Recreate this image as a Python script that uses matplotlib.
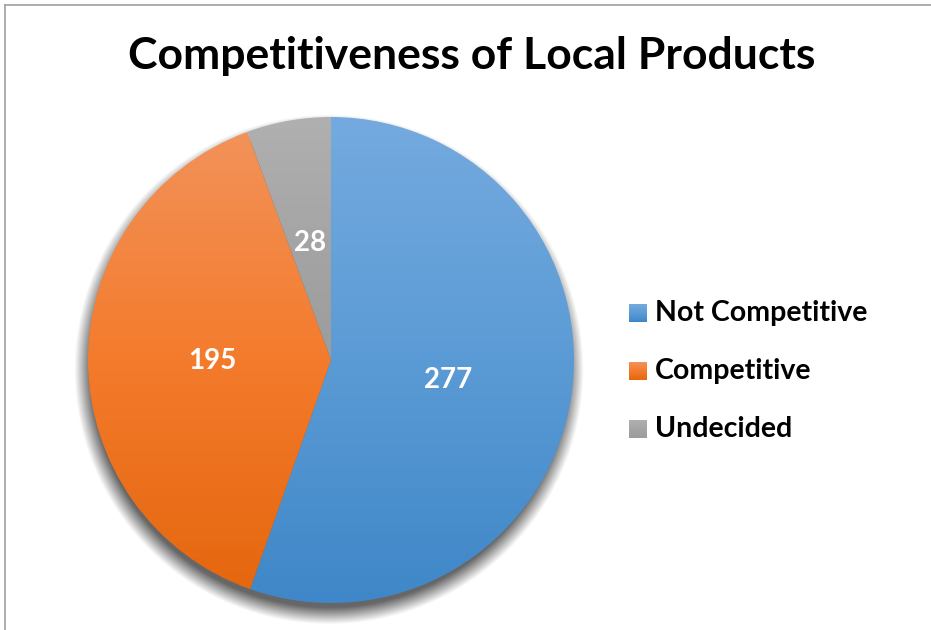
import numpy as np
import matplotlib
matplotlib.use("Agg")
import matplotlib.pyplot as plt
from matplotlib.colors import LinearSegmentedColormap, to_rgb
from matplotlib.lines import Line2D

categorias = ["Not Competitive", "Competitive", "Undecided"]
valores = [277, 195, 28]
titulo = "Competitiveness of Local Products"

# gradiente de cada fatia: base (escura), meio, topo (clara)
cores_base = ["#3f87c8", "#e5670f", "#9c9c9c"]
cores_meio = ["#5b9bd5", "#f47b2c", "#a5a5a5"]
cores_topo = ["#74aadf", "#f2925a", "#b0b0b0"]

plt.rcParams["font.family"] = ["Lato", "DejaVu Sans"]

fig = plt.figure(figsize=(9.31, 6.30), dpi=100)
fig.patch.set_facecolor("white")

# moldura (so topo e esquerda aparecem)
fig.add_artist(Line2D([5 / 931, 1.0], [1 - 5 / 630, 1 - 5 / 630],
                      transform=fig.transFigure, color="#a0a0a0", lw=1.2))
fig.add_artist(Line2D([5 / 931, 5 / 931], [0.0, 1 - 5 / 630],
                      transform=fig.transFigure, color="#a0a0a0", lw=1.2))

fig.text(472 / 931, 1 - 56 / 630, titulo, ha="center", va="center",
         fontsize=32, fontweight="bold", color="black")

cx, cy, r = 331, 360, 243
ax = fig.add_axes([(cx - r) / 931, (630 - cy - r) / 630, 2 * r / 931, 2 * r / 630])

total = sum(valores)
fatias, textos, autotextos = ax.pie(
    valores,
    startangle=90,
    counterclock=False,
    colors=cores_meio,
    autopct=lambda p: f"{round(p * total / 100)}",
    pctdistance=0.49,
    textprops=dict(color="white", fontsize=20, fontweight="bold"),
    wedgeprops=dict(linewidth=0),
)

# sombra suave deslocada para baixo
xs = np.linspace(-1.15, 1.15, 500)
X, Y = np.meshgrid(xs, xs)
dist = np.hypot(X + 0.01, Y + 0.04)
alfa = np.clip((1.05 - dist) / 0.07, 0, 1) * 0.6
sombra = np.zeros((500, 500, 4))
sombra[..., 3] = alfa
ax.imshow(sombra, extent=(-1.15, 1.15, -1.15, 1.15), origin="lower",
          zorder=0, clip_on=False, interpolation="bilinear")

# gradiente vertical em cada fatia
for fatia, base, meio, topo in zip(fatias, cores_base, cores_meio, cores_topo):
    fatia.set_facecolor("none")
    ext = fatia.get_path().get_extents()
    cmap = LinearSegmentedColormap.from_list(
        "g", [to_rgb(base), to_rgb(meio), to_rgb(topo)])
    grad = np.linspace(0, 1, 256).reshape(-1, 1)
    img = ax.imshow(grad, cmap=cmap, origin="lower", aspect="auto",
                    extent=(ext.x0, ext.x1, ext.y0, ext.y1), zorder=1)
    img.set_clip_path(fatia)
for t in autotextos:
    t.set_zorder(3)
ax.set_xlim(-1, 1)
ax.set_ylim(-1, 1)
ax.set_aspect("equal")
ax.axis("off")

# legenda com quadrados em gradiente
ys_leg = [313, 371, 429]
for nome, base, meio, topo, yl in zip(categorias, cores_base, cores_meio,
                                      cores_topo, ys_leg):
    lax = fig.add_axes([629 / 931, (630 - yl - 9) / 630, 18 / 931, 18 / 630])
    cmap = LinearSegmentedColormap.from_list(
        "g", [to_rgb(base), to_rgb(meio), to_rgb(topo)])
    lax.imshow(np.linspace(0, 1, 64).reshape(-1, 1), cmap=cmap, origin="lower",
               aspect="auto")
    lax.axis("off")
    fig.text(655 / 931, 1 - yl / 630, nome, ha="left", va="center",
             fontsize=20.5, fontweight="bold", color="black")

fig.savefig("out.png", dpi=100)
